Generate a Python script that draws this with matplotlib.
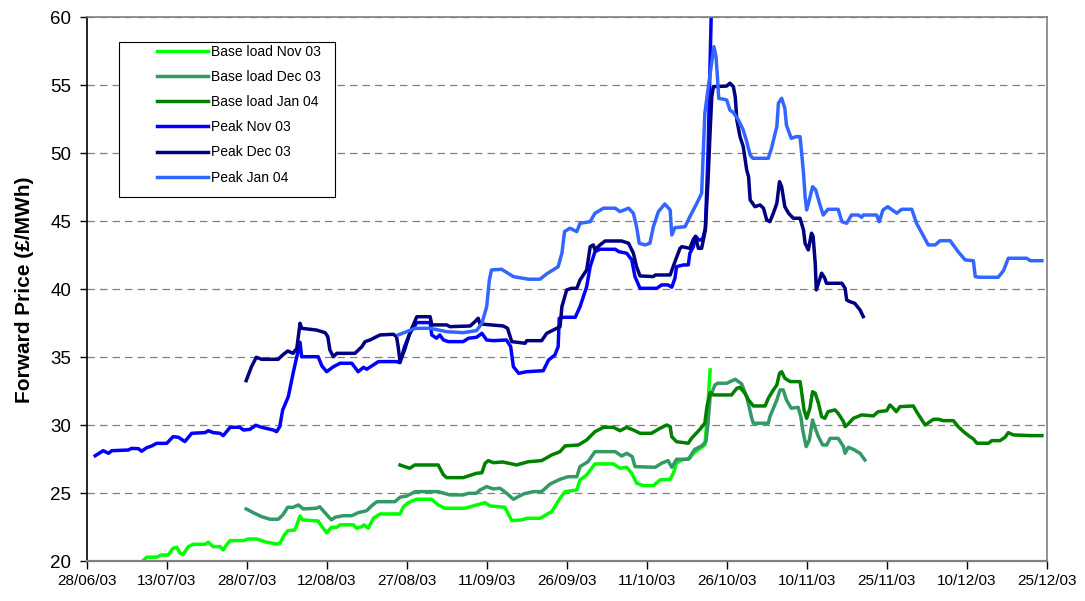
import matplotlib
matplotlib.use("Agg")
import matplotlib.pyplot as plt
import matplotlib.dates as mdates
from matplotlib.patches import Rectangle
import pandas as pd

plt.rcParams['font.family'] = ['Liberation Sans', 'DejaVu Sans']

START = "2003-06-28"
END = "2003-12-25"
TICK_STEP_DAYS = 15

# (days since START, price £/MWh)
base_nov03 = [(1.6,19.9),(5,19.9),(10.3,19.95),(11.25,20.3),(13.1,20.3),(14.0,20.46),(15.3,20.46),(16.2,20.96),(16.9,21.03),(17.5,20.59),(18.1,20.5),(19.05,21.08),(20.0,21.25),(22.2,21.25),(22.8,21.4),(23.7,21.08),(25.0,21.08),(25.6,20.83),(26.2,21.2),(26.9,21.52),(29.4,21.52),(30.3,21.64),(31.8,21.64),(33.75,21.4),(35.6,21.27),(36.2,21.3),(37.05,21.93),(37.7,22.25),(39.0,22.3),(39.4,22.67),(40.0,23.33),(40.5,23.04),(43.4,22.96),(44.1,22.55),(45.0,22.1),(45.9,22.5),(46.9,22.5),(47.5,22.68),(50.0,22.68),(50.6,22.43),(51.6,22.55),(52.0,22.68),(52.8,22.43),(53.75,23.16),(55.0,23.48),(58.75,23.48),(59.4,24.01),(60.3,24.31),(61.9,24.56),(64.7,24.56),(65.9,24.14),(67.2,23.9),(70.9,23.9),(73.1,24.14),(74.7,24.31),(75.6,24.07),(78.4,23.97),(79.7,22.99),(81.6,23.04),(82.5,23.16),(85.0,23.16),(87.2,23.65),(88.75,24.63),(89.7,25.12),(91.9,25.24),(92.5,25.98),(93.75,26.35),(95.3,27.16),(98.75,27.16),(100.0,26.84),(101.25,26.91),(102.2,26.47),(103.1,25.74),(104.4,25.56),(106.25,25.56),(107.5,25.98),(109.4,26.03),(110.0,26.47),(110.6,27.21),(111.6,27.45),(113.1,27.57),(113.75,27.94),(115.0,28.3),(115.9,28.55),(116.25,30.15),(116.9,34.07)]

base_dec03 = [(29.9,23.85),(31.25,23.57),(32.8,23.28),(34.4,23.09),(35.9,23.09),(36.75,23.4),(37.7,23.97),(38.7,23.97),(39.7,24.14),(40.6,23.85),(43.1,23.9),(43.7,24.01),(44.6,23.6),(45.9,23.04),(46.6,23.24),(48.1,23.35),(49.7,23.35),(50.9,23.57),(52.5,23.72),(53.4,24.07),(54.4,24.38),(57.8,24.38),(58.75,24.71),(60.0,24.8),(61.6,25.12),(65.9,25.12),(68.1,24.88),(70.6,24.88),(71.6,25.0),(73.0,25.0),(73.75,25.24),(75.0,25.49),(76.25,25.32),(77.5,25.37),(78.75,25.0),(80.0,24.56),(81.9,24.95),(83.75,25.12),(85.3,25.12),(86.9,25.68),(88.75,26.03),(90.3,26.22),(91.9,26.22),(92.5,26.96),(94.0,27.32),(95.3,28.06),(99.1,28.06),(100.3,27.74),(101.25,27.94),(102.3,27.69),(102.8,26.96),(106.6,26.91),(107.8,27.21),(109.0,27.4),(109.7,26.91),(110.6,27.5),(112.8,27.5),(114.0,28.23),(115.3,28.48),(116.1,28.79),(116.5,30.15),(116.9,32.1),(117.8,32.96),(118.3,33.09),(120.0,33.09),(121.6,33.38),(122.8,33.04),(123.75,32.1),(124.7,30.51),(125.0,30.15),(127.8,30.15),(128.1,30.63),(129.4,31.86),(130.0,32.6),(130.6,32.6),(131.2,31.86),(132.1,31.25),(133.4,31.32),(133.9,30.63),(134.25,29.65),(134.9,28.43),(135.5,28.92),(136.1,30.39),(136.6,29.78),(137.2,29.16),(138.0,28.55),(138.75,28.55),(139.4,29.04),(140.9,29.04),(141.9,28.43),(142.2,27.94),(142.8,28.38),(143.75,28.23),(145.0,27.94),(145.9,27.45)]

base_jan04 = [(58.75,27.08),(59.6,26.96),(60.6,26.84),(61.5,27.08),(65.9,27.08),(66.9,26.35),(67.5,26.15),(70.6,26.15),(73.1,26.47),(74.1,26.51),(74.7,27.21),(75.3,27.4),(76.25,27.25),(78.0,27.3),(79.7,27.16),(80.6,27.08),(82.8,27.32),(85.3,27.4),(87.2,27.82),(88.75,28.06),(89.7,28.48),(92.2,28.55),(93.75,28.92),(95.3,29.53),(96.9,29.85),(98.75,29.85),(100.0,29.6),(101.25,29.85),(102.5,29.65),(103.75,29.41),(105.9,29.41),(107.5,29.78),(108.75,30.02),(109.4,29.9),(109.7,29.16),(110.6,28.79),(112.8,28.68),(113.4,29.04),(115.0,29.71),(115.9,30.15),(116.3,31.37),(116.9,32.4),(117.5,32.23),(120.9,32.23),(121.9,32.72),(122.5,32.79),(123.4,32.35),(124.1,31.86),(125.0,31.42),(127.2,31.42),(127.8,31.98),(128.75,32.6),(129.4,32.96),(129.9,33.82),(130.3,33.94),(130.9,33.46),(131.9,33.21),(133.75,33.21),(134.0,32.6),(134.5,31.13),(135.0,30.51),(135.6,31.25),(136.1,32.47),(136.6,32.35),(137.2,31.62),(137.8,30.63),(138.4,30.51),(139.0,31.0),(140.3,31.13),(140.9,30.88),(141.9,30.27),(142.2,29.9),(142.6,30.02),(143.75,30.51),(145.3,30.76),(147.5,30.69),(148.4,31.0),(150.0,31.07),(150.6,31.49),(151.25,31.25),(151.8,31.0),(152.5,31.37),(155.0,31.42),(155.6,31.0),(157.2,30.02),(158.75,30.44),(159.7,30.44),(160.6,30.34),(162.5,30.34),(163.4,29.9),(164.4,29.53),(165.6,29.16),(166.25,29.0),(166.9,28.68),(169.1,28.68),(169.7,28.87),(171.25,28.87),(172.2,29.12),(172.8,29.46),(173.75,29.29),(176.9,29.24),(179.1,29.24)]

peak_nov03 = [(1.6,27.76),(3.1,28.13),(4.1,27.94),(4.7,28.13),(7.8,28.18),(8.4,28.3),(9.7,28.28),(10.3,28.09),(11.25,28.35),(12.2,28.48),(13.1,28.67),(15.0,28.67),(16.2,29.16),(17.2,29.12),(18.4,28.8),(19.7,29.41),(22.2,29.46),(22.8,29.6),(23.7,29.46),(25.0,29.41),(25.6,29.24),(26.9,29.85),(28.7,29.85),(29.4,29.65),(30.6,29.7),(31.7,30.0),(32.8,29.85),(35.0,29.65),(35.6,29.53),(36.2,29.9),(36.75,31.13),(37.8,32.1),(38.7,33.82),(40.0,36.1),(40.3,35.04),(43.4,35.04),(44.1,34.36),(45.0,33.94),(46.25,34.3),(47.5,34.56),(49.7,34.56),(50.9,33.94),(51.9,34.26),(52.5,34.12),(54.7,34.68),(58.1,34.68),(58.75,34.6),(59.6,35.78),(60.6,36.76),(61.9,37.55),(64.4,37.55),(64.7,36.64),(65.6,36.4),(66.2,36.64),(66.9,36.27),(67.8,36.15),(70.6,36.15),(71.6,36.4),(73.1,36.47),(74.1,36.76),(75.0,36.27),(76.2,36.22),(78.7,36.27),(79.5,35.78),(80.0,34.31),(81.0,33.82),(82.5,33.94),(85.6,34.01),(86.6,34.8),(87.8,35.17),(88.4,35.78),(88.6,37.87),(89.4,37.94),(91.6,37.94),(92.5,38.72),(93.75,40.19),(94.4,41.66),(95.3,42.76),(96.25,42.94),(99.1,42.94),(99.8,42.76),(101.25,42.65),(102.2,42.16),(102.8,40.93),(103.75,40.07),(106.9,40.07),(107.8,40.32),(109.0,40.32),(109.7,40.15),(110.3,40.81),(110.6,41.66),(111.9,41.79),(112.8,41.79),(113.1,42.65),(113.75,43.13),(114.2,43.9),(114.8,43.6),(115.5,43.7),(116.0,44.5),(116.5,50.0),(117.2,62.0)]

peak_dec03 = [(29.9,33.28),(30.9,34.31),(31.8,35.0),(32.8,34.85),(35.9,34.85),(36.75,35.17),(37.7,35.46),(38.7,35.29),(39.4,35.66),(40.0,37.5),(40.3,37.13),(43.1,37.0),(44.7,36.81),(45.2,36.52),(45.6,35.54),(46.25,35.04),(46.9,35.29),(50.3,35.29),(51.6,35.78),(52.2,36.15),(53.1,36.27),(55.0,36.64),(57.5,36.69),(58.1,36.52),(58.4,35.78),(58.75,34.68),(59.6,35.54),(60.6,36.8),(61.9,37.98),(64.4,37.98),(64.7,37.38),(67.5,37.38),(68.1,37.25),(71.9,37.3),(72.8,37.62),(73.4,37.87),(73.75,37.45),(78.1,37.3),(78.9,37.13),(79.7,36.15),(82.2,36.03),(82.5,36.22),(85.3,36.22),(86.25,36.76),(88.75,37.25),(89.1,38.72),(90.0,39.95),(90.9,40.07),(91.9,40.07),(92.5,40.68),(93.75,41.42),(94.4,43.13),(95.0,43.26),(95.3,42.9),(96.25,43.26),(97.2,43.55),(100.3,43.55),(101.6,43.38),(102.5,42.65),(103.1,41.66),(103.75,40.98),(106.25,40.93),(106.6,41.05),(109.4,41.05),(110.3,42.03),(111.25,43.01),(111.6,43.13),(113.1,43.01),(113.75,43.68),(114.1,43.87),(114.7,43.01),(115.3,43.01),(116.0,44.36),(116.5,48.0),(116.9,51.7),(117.2,54.16),(117.5,54.9),(120.0,54.94),(120.6,55.15),(121.25,54.9),(121.6,54.16),(121.9,52.45),(122.5,51.22),(123.1,50.49),(123.75,48.77),(124.1,48.28),(124.4,46.57),(125.3,46.07),(126.25,46.2),(126.9,45.96),(127.5,45.1),(128.1,44.97),(128.75,45.59),(129.4,46.32),(129.9,47.91),(130.3,47.54),(130.9,46.07),(131.6,45.59),(132.5,45.22),(133.75,45.22),(134.4,44.36),(134.7,43.38),(135.3,42.89),(135.9,44.12),(136.2,43.9),(136.6,41.91),(136.8,39.95),(137.5,40.81),(137.8,41.18),(138.4,40.81),(138.7,40.44),(141.6,40.44),(142.2,40.07),(142.5,39.21),(143.1,39.09),(144.0,38.97),(145.0,38.48),(145.6,37.99)]

peak_jan04 = [(58.4,36.64),(61.6,37.13),(64.4,37.13),(67.5,36.88),(70.6,36.81),(73.1,36.96),(74.1,37.5),(75.0,38.72),(75.5,40.68),(75.9,41.42),(77.8,41.47),(80.0,40.93),(82.8,40.74),(85.0,40.74),(86.25,41.13),(88.4,41.66),(89.1,42.65),(89.6,44.24),(90.6,44.49),(91.9,44.24),(92.5,44.85),(94.4,44.97),(95.3,45.59),(96.9,45.96),(99.1,45.96),(100.0,45.71),(101.6,45.96),(102.5,45.59),(103.1,44.6),(103.6,43.38),(104.7,43.26),(105.6,43.38),(106.25,44.6),(107.2,45.71),(108.4,46.27),(109.4,45.83),(109.7,43.99),(110.3,44.53),(112.2,44.6),(113.1,45.34),(114.4,46.32),(115.3,47.06),(115.9,52.94),(116.6,55.0),(117.6,57.84),(118.0,57.1),(118.3,55.39),(118.5,54.04),(120.0,53.92),(120.6,53.18),(121.25,52.99),(122.2,52.45),(123.1,51.71),(123.75,50.86),(124.4,49.87),(124.9,49.63),(127.8,49.63),(128.4,50.37),(129.4,51.96),(129.7,53.68),(130.3,54.04),(130.9,53.31),(131.2,52.08),(132.1,51.1),(133.0,51.22),(133.75,51.22),(134.0,50.24),(134.4,48.53),(134.7,46.81),(135.0,45.83),(135.5,46.57),(136.1,47.54),(136.7,47.3),(137.4,46.32),(138.1,45.46),(139.0,45.88),(140.9,45.88),(141.6,44.97),(142.5,44.85),(143.4,45.46),(144.7,45.46),(145.3,45.29),(145.6,45.46),(148.1,45.46),(148.6,44.97),(149.3,45.83),(150.2,46.07),(151.9,45.59),(152.8,45.88),(154.7,45.88),(155.6,44.85),(157.8,43.26),(159.1,43.26),(160.0,43.57),(161.9,43.57),(163.4,42.76),(164.7,42.16),(166.25,42.1),(166.6,40.93),(167.5,40.88),(170.9,40.88),(171.9,41.37),(172.8,42.28),(176.25,42.28),(176.9,42.1),(179.1,42.1)]

series_labels = ["Base load Nov 03", "Base load Dec 03", "Base load Jan 04",
                 "Peak Nov 03", "Peak Dec 03", "Peak Jan 04"]
series_colors = ["#00FF00", "#339966", "#008000", "#0000FF", "#000080", "#3366FF"]
series_data = [base_nov03, base_dec03, base_jan04, peak_nov03, peak_dec03, peak_jan04]

y_min, y_max, y_step = 20, 60, 5
y_label = "Forward Price (£/MWh)"

start = pd.Timestamp(START)
end = pd.Timestamp(END)

fig = plt.figure(figsize=(10.85, 6.01), dpi=100)
ax = fig.add_axes([0.0799, 0.0661, 0.8848, 0.9052])

handles = []
for data, lab, col in zip(series_data, series_labels, series_colors):
    d = [start + pd.Timedelta(days=p[0]) for p in data]
    v = [p[1] for p in data]
    h, = ax.plot(d, v, color=col, lw=2.5, label=lab, solid_joinstyle='round')
    handles.append(h)

ax.set_xlim(start, end)
ax.set_ylim(y_min, y_max)
ticks = pd.date_range(start, end, freq=f"{TICK_STEP_DAYS}D")
ax.set_xticks(ticks)
ax.xaxis.set_major_formatter(mdates.DateFormatter("%d/%m/%y"))
ax.set_yticks(range(y_min, y_max + 1, y_step))

ax.yaxis.grid(True, color="#808080", linestyle=(0, (6, 4)), linewidth=0.9)
ax.set_axisbelow(True)

for s in ["top", "right"]:
    ax.spines[s].set_color("#808080")
    ax.spines[s].set_linewidth(1.2)
ax.spines["left"].set_color("black")
ax.spines["left"].set_linewidth(1.2)
ax.spines["bottom"].set_color("#808080")
ax.spines["bottom"].set_linewidth(1.6)

ax.tick_params(axis="x", direction="out", length=6, width=1, colors="black", labelsize=11, pad=3)
ax.tick_params(axis="y", direction="out", length=5, width=1, colors="black", labelsize=13.5, pad=6)

ax.set_ylabel(y_label, fontsize=15, fontweight="bold", labelpad=12)

# legend box
ax.add_patch(Rectangle((0.0336, 0.6697), 0.225, 0.285, transform=ax.transAxes,
                       facecolor="white", edgecolor="black", lw=0.8, zorder=5))
leg = ax.legend(handles=handles, loc="upper left", bbox_to_anchor=(0.0732, 0.949),
                frameon=False, borderpad=0, borderaxespad=0, handlelength=3.67,
                handletextpad=0.2, labelspacing=0.8, fontsize=10)
leg.set_zorder(6)

fig.savefig("out.png", dpi=100)
